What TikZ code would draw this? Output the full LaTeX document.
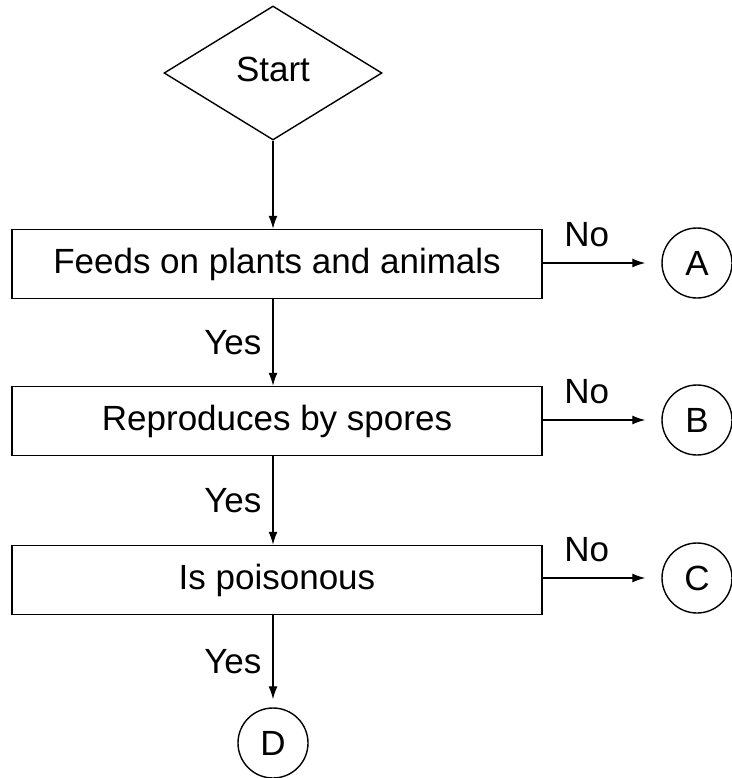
\documentclass[tikz,border=0pt]{standalone}
\usepackage{fontspec}
\setmainfont{Liberation Sans}
\usetikzlibrary{shapes.geometric,arrows.meta}
\begin{document}
\begin{tikzpicture}[x=1pt,y=-1pt,
  every node/.style={font=\fontsize{35}{41}\selectfont},
  boxnode/.style={draw, line width=1.5pt, minimum width=530pt, minimum height=69pt, inner sep=0pt},
  termnode/.style={draw, circle, line width=1.4pt, minimum size=70pt, inner sep=0pt},
  startnode/.style={draw, diamond, line width=1.4pt, minimum width=218pt, minimum height=134pt, inner sep=0pt},
  arr/.style={line width=1.3pt, -{Latex[length=13pt,width=9pt]}},
  lbl/.style={inner sep=0pt}]
\useasboundingbox (0,0) rectangle (731,778);

\node[startnode] (s) at (273,73) {\raisebox{8pt}{Start}};
\node[boxnode] (b1) at (277,264) {Feeds on plants and animals};
\node[boxnode] (b2) at (277,421) {Reproduces by spores};
\node[boxnode] (b3) at (277,580) {Is poisonous};

\node[termnode] (A) at (697,263) {A};
\node[termnode] (B) at (697,420) {B};
\node[termnode] (C) at (697,578) {C};
\node[termnode] (D) at (273,743) {D};

\draw[arr] (s.south) -- (b1.north -| s.south);
\draw[arr] (b1.south -| s.south) -- node[lbl, left=11pt]{Yes} (b2.north -| s.south);
\draw[arr] (b2.south -| s.south) -- node[lbl, left=11pt]{Yes} (b3.north -| s.south);
\draw[arr, shorten >=8pt] (b3.south -| D.north) -- node[lbl, left=11pt]{Yes} (D.north);

\draw[arr, shorten >=16pt] (b1.east |- A) -- node[lbl, pos=0.37, above=16pt]{No} (A);
\draw[arr, shorten >=16pt] (b2.east |- B) -- node[lbl, pos=0.37, above=16pt]{No} (B);
\draw[arr, shorten >=16pt] (b3.east |- C) -- node[lbl, pos=0.37, above=16pt]{No} (C);
\end{tikzpicture}
\end{document}
